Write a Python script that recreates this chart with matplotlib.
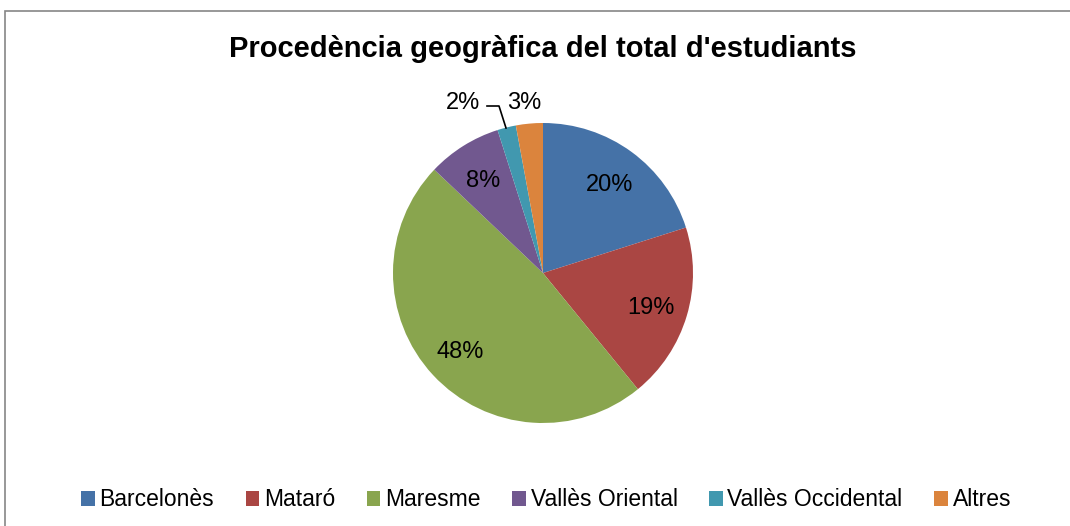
import matplotlib
matplotlib.use("Agg")
import matplotlib.pyplot as plt
from matplotlib.patches import Rectangle
import numpy as np

plt.rcParams['font.family'] = ['Liberation Sans', 'DejaVu Sans']

categories = ["Barcelonès", "Mataró", "Maresme", "Vallès Oriental", "Vallès Occidental", "Altres"]
values = [20.1, 19.0, 48.0, 8.0, 2.0, 2.9]
labels = ["20%", "19%", "48%", "8%", "2%", "3%"]
colors = ["#4572A7", "#AA4643", "#89A54E", "#71588F", "#4198AF", "#DB843D"]
title = "Procedència geogràfica del total d'estudiants"

W, H = 1070, 526
fig = plt.figure(figsize=(W / 100, H / 100), dpi=100)

# outer border
fig.patches.append(Rectangle((5 / W, -0.01), 1.02, (H - 11) / H + 0.01, transform=fig.transFigure,
                             fill=False, edgecolor="#868686", linewidth=1.2))

cx, cy, r = 543, 273, 150
ax = fig.add_axes([(cx - r) / W, (H - cy - r) / H, 2 * r / W, 2 * r / H])
wedges, texts = ax.pie(values, colors=colors, startangle=90, counterclock=False,
                       radius=1.0, labels=None,
                       wedgeprops=dict(linewidth=0))
ax.set_xlim(-1, 1)
ax.set_ylim(-1, 1)
ax.set_aspect('equal')
ax.axis('off')

fs = 17
cum = 0
total = sum(values)
for i, (v, lab) in enumerate(zip(values, labels)):
    mid = 90 - (cum + v / 2) / total * 360
    cum += v
    if i < 4:
        d = 0.75
        x, y = d * np.cos(np.radians(mid)), d * np.sin(np.radians(mid))
        ax.text(x, y - 0.02, lab, ha='center', va='center', fontsize=fs)

def px2d(px, py):
    return (px - cx) / r, (cy - py) / r

x2, y2 = px2d(463, 103)
ax.text(x2, y2, labels[4], ha='center', va='center', fontsize=fs, clip_on=False)
x3, y3 = px2d(524, 103)
ax.text(x3, y3, labels[5], ha='center', va='center', fontsize=fs, clip_on=False)
p1 = px2d(487, 106)
p2 = px2d(499, 106)
p3 = px2d(506, 128)
ax.plot([p1[0], p2[0], p3[0]], [p1[1], p2[1], p3[1]], color='black', linewidth=1.2, clip_on=False)

fig.text(543 / W, 1 - 49 / H, title, ha='center', va='center', fontsize=21, fontweight='bold')

leg = fig.legend(wedges, categories, loc='center', bbox_to_anchor=(546 / W, 1 - 500 / H), ncol=6,
                 frameon=False, fontsize=16.5, handlelength=0.6, handleheight=0.6,
                 handletextpad=0.2, columnspacing=1.38)

fig.savefig("out.png", dpi=100)
